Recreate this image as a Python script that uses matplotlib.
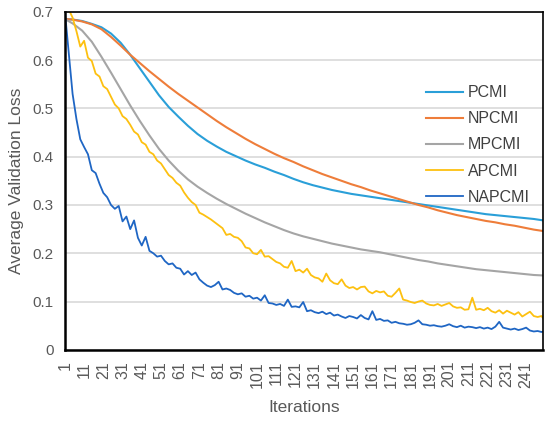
import numpy as np
import matplotlib
matplotlib.use("Agg")
from matplotlib import pyplot as plt

plt.rcParams["font.family"] = ["Liberation Sans", "DejaVu Sans"]

# smooth curves, read every 5 iterations
smooth_iters = [1] + list(range(5, 251, 5))
pcmi = [0.685, 0.684, 0.681, 0.675, 0.668, 0.655, 0.636, 0.611, 0.583, 0.555,
        0.527, 0.503, 0.483, 0.464, 0.447, 0.433, 0.421, 0.410, 0.401, 0.392,
        0.384, 0.377, 0.369, 0.362, 0.354, 0.347, 0.341, 0.336, 0.331, 0.327,
        0.323, 0.320, 0.317, 0.314, 0.311, 0.308, 0.305, 0.302, 0.299, 0.296,
        0.293, 0.290, 0.287, 0.284, 0.281, 0.279, 0.277, 0.275, 0.273, 0.271,
        0.268]
npcmi = [0.685, 0.684, 0.680, 0.674, 0.664, 0.648, 0.630, 0.611, 0.594, 0.577,
         0.561, 0.545, 0.530, 0.516, 0.502, 0.488, 0.474, 0.461, 0.449, 0.437,
         0.426, 0.416, 0.406, 0.397, 0.389, 0.380, 0.372, 0.364, 0.357, 0.350,
         0.343, 0.337, 0.330, 0.324, 0.318, 0.312, 0.306, 0.300, 0.295, 0.289,
         0.284, 0.279, 0.275, 0.271, 0.267, 0.264, 0.260, 0.257, 0.253, 0.249,
         0.246]
mpcmi = [0.685, 0.676, 0.661, 0.638, 0.607, 0.574, 0.540, 0.506, 0.474, 0.444,
         0.416, 0.392, 0.371, 0.353, 0.338, 0.325, 0.313, 0.302, 0.292, 0.282,
         0.273, 0.264, 0.256, 0.248, 0.241, 0.235, 0.230, 0.225, 0.220, 0.216,
         0.212, 0.208, 0.205, 0.202, 0.198, 0.194, 0.190, 0.186, 0.183, 0.179,
         0.176, 0.173, 0.170, 0.167, 0.165, 0.163, 0.161, 0.159, 0.157, 0.155,
         0.154]

# noisy curves, read every 2 iterations
noisy_iters = list(range(1, 250, 2)) + [250]
apcmi = [0.735, 0.705, 0.688, 0.660, 0.628, 0.640, 0.605, 0.598, 0.572, 0.566,
         0.546, 0.540, 0.524, 0.508, 0.500, 0.484, 0.478, 0.466, 0.452, 0.446,
         0.430, 0.425, 0.410, 0.405, 0.392, 0.386, 0.374, 0.362, 0.356, 0.346,
         0.340, 0.326, 0.315, 0.306, 0.300, 0.284, 0.280, 0.275, 0.270, 0.264,
         0.258, 0.252, 0.238, 0.240, 0.234, 0.232, 0.225, 0.212, 0.210, 0.200,
         0.198, 0.207, 0.193, 0.194, 0.188, 0.182, 0.179, 0.172, 0.170, 0.184,
         0.163, 0.166, 0.160, 0.168, 0.155, 0.150, 0.148, 0.141, 0.158, 0.144,
         0.138, 0.136, 0.146, 0.133, 0.128, 0.130, 0.125, 0.130, 0.131, 0.121,
         0.117, 0.122, 0.119, 0.121, 0.112, 0.110, 0.118, 0.127, 0.104, 0.102,
         0.099, 0.097, 0.100, 0.102, 0.096, 0.093, 0.092, 0.095, 0.091, 0.094,
         0.097, 0.090, 0.087, 0.088, 0.083, 0.084, 0.108, 0.083, 0.085, 0.082,
         0.087, 0.080, 0.077, 0.082, 0.075, 0.081, 0.077, 0.073, 0.078, 0.069,
         0.074, 0.079, 0.070, 0.068, 0.070, 0.065]
napcmi = [0.700, 0.615, 0.530, 0.478, 0.436, 0.420, 0.405, 0.372, 0.366, 0.344,
          0.325, 0.316, 0.300, 0.292, 0.298, 0.266, 0.276, 0.250, 0.268, 0.232,
          0.216, 0.234, 0.205, 0.200, 0.193, 0.195, 0.184, 0.177, 0.179, 0.170,
          0.168, 0.156, 0.163, 0.155, 0.160, 0.146, 0.139, 0.133, 0.130, 0.134,
          0.141, 0.125, 0.127, 0.124, 0.118, 0.115, 0.117, 0.110, 0.112, 0.106,
          0.108, 0.102, 0.113, 0.097, 0.096, 0.093, 0.095, 0.091, 0.104, 0.089,
          0.090, 0.088, 0.099, 0.080, 0.082, 0.078, 0.076, 0.079, 0.074, 0.077,
          0.071, 0.073, 0.069, 0.066, 0.070, 0.068, 0.065, 0.072, 0.066, 0.063,
          0.080, 0.062, 0.064, 0.060, 0.061, 0.056, 0.058, 0.055, 0.054, 0.052,
          0.053, 0.056, 0.061, 0.053, 0.052, 0.050, 0.051, 0.049, 0.048, 0.050,
          0.053, 0.049, 0.047, 0.050, 0.046, 0.048, 0.047, 0.045, 0.047, 0.044,
          0.046, 0.043, 0.048, 0.058, 0.046, 0.044, 0.042, 0.044, 0.041, 0.043,
          0.046, 0.040, 0.038, 0.039, 0.037, 0.038]

xtick_pos = list(range(1, 250, 10))
ytick_pos = [0, 0.1, 0.2, 0.3, 0.4, 0.5, 0.6, 0.7]
ytick_labels = ["0", "0.1", "0.2", "0.3", "0.4", "0.5", "0.6", "0.7"]

text_col = "#595959"

fig = plt.figure(figsize=(5.5, 4.22), dpi=100)
ax = fig.add_axes([0.118, 0.171, 0.870, 0.801])

ax.plot(smooth_iters, pcmi, color="#2a9fd8", lw=1.5, label="PCMI")
ax.plot(smooth_iters, npcmi, color="#ee7d3a", lw=1.5, label="NPCMI")
ax.plot(smooth_iters, mpcmi, color="#a5a5a5", lw=1.5, label="MPCMI")
ax.plot(noisy_iters, apcmi, color="#fdc010", lw=1.3, label="APCMI")
ax.plot(noisy_iters, napcmi, color="#1f66c4", lw=1.3, label="NAPCMI")

ax.set_xlim(1, 250)
ax.set_ylim(0, 0.7)
ax.set_xticks(xtick_pos)
ax.set_xticklabels([str(v) for v in xtick_pos], rotation=90)
ax.set_yticks(ytick_pos)
ax.set_yticklabels(ytick_labels)
ax.tick_params(length=0, labelcolor=text_col, pad=8)
ax.tick_params(axis="x", labelsize=11.5)
ax.tick_params(axis="y", labelsize=11)
ax.grid(axis="y", color="#d9d9d9", lw=1.2)
ax.set_axisbelow(True)
for side in ["left", "bottom"]:
    ax.spines[side].set_linewidth(1.8)
for side in ["top", "right"]:
    ax.spines[side].set_linewidth(1.2)

ax.set_xlabel("Iterations", fontsize=12.5, color=text_col, labelpad=9)
ax.set_ylabel("Average Validation Loss", fontsize=12.5, color=text_col, labelpad=6)

leg = ax.legend(loc="center left", bbox_to_anchor=(0.725, 0.606), frameon=False,
                fontsize=11.5, handlelength=2.3, handletextpad=0.3, labelspacing=0.7)
for t in leg.get_texts():
    t.set_color("#404040")

fig.savefig("out.png", dpi=100)
